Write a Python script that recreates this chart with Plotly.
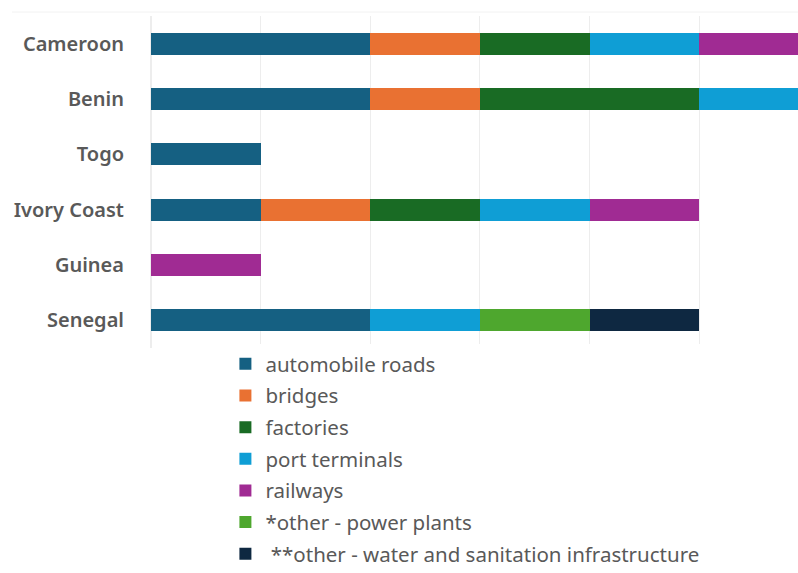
import plotly.graph_objects as go

countries = ["Cameroon", "Benin", "Togo", "Ivory Coast", "Guinea", "Senegal"]

automobile_roads = [2, 2, 1, 1, 0, 2]
bridges = [1, 1, 0, 1, 0, 0]
factories = [1, 2, 0, 1, 0, 0]
port_terminals = [1, 1, 0, 1, 0, 1]
railways = [1, 0, 0, 1, 1, 0]
power_plants = [0, 0, 0, 0, 0, 1]
water_sanitation = [0, 0, 0, 0, 0, 1]

series = [
    ("automobile roads", automobile_roads, "#156082"),
    ("bridges", bridges, "#E97132"),
    ("factories", factories, "#196B24"),
    ("port terminals", port_terminals, "#0F9ED5"),
    ("railways", railways, "#A02B93"),
    ("*other - power plants", power_plants, "#4EA72E"),
    (" **other - water and sanitation infrastructure", water_sanitation, "#0E2841"),
]

fig = go.Figure()
for i, (name, vals, color) in enumerate(series):
    fig.add_trace(go.Bar(
        y=countries,
        x=vals,
        name=name,
        orientation="h",
        marker=dict(color=color, line=dict(width=0)),
        legendgroup=f"g{i}",
        width=0.4,
    ))

fig.update_layout(
    barmode="stack",
    width=798,
    height=573,
    margin=dict(l=151, r=0, t=16, b=225, autoexpand=False),
    plot_bgcolor="white",
    paper_bgcolor="white",
    showlegend=True,
    legend=dict(
        orientation="v",
        x=0.115,
        xanchor="left",
        y=0.012,
        yanchor="top",
        font=dict(family="Noto Sans", size=20.5, color="#595959"),
        tracegroupgap=2,
        traceorder="grouped",
    ),
    xaxis=dict(
        range=[0, 5.9],
        dtick=1,
        showgrid=True,
        gridcolor="#EDEDED",
        gridwidth=1,
        zeroline=True,
        zerolinecolor="#EDEDED",
        showticklabels=False,
        showline=False,
        ticks="",
    ),
    yaxis=dict(
        autorange="reversed",
        showgrid=False,
        ticks="",
        ticklabelstandoff=26,
        tickfont=dict(family="Noto Sans", size=20, color="#595959", weight=600),
        showline=False,
    ),
    shapes=[dict(
        type="line", xref="paper", yref="paper",
        x0=-0.215, x1=1, y0=1.012, y1=1.012,
        line=dict(color="#F2F2F2", width=1),
    )],
)

fig.write_html("out.html")
